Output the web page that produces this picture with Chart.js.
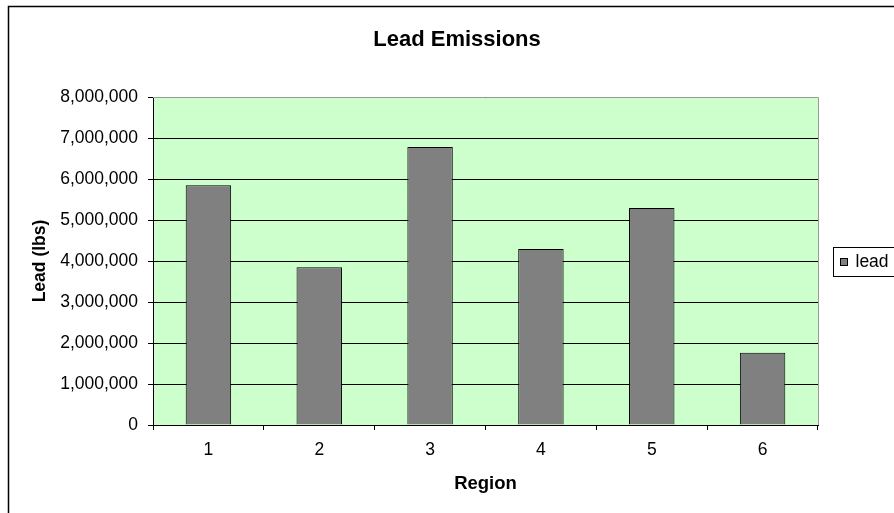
<!DOCTYPE html>
<html>
<head>
<meta charset="utf-8">
<script src="https://cdn.jsdelivr.net/npm/chart.js@4/dist/chart.umd.min.js"></script>
<style>
html,body{margin:0;padding:0;background:#fff;}
canvas{display:block;}
</style>
</head>
<body>
<canvas id="c" width="894" height="513"></canvas>
<script>
const chartTitle = 'Lead Emissions';
const categories = ['1', '2', '3', '4', '5', '6'];
const seriesName = 'lead';
const leadValues = [5850000, 3850000, 6780000, 4290000, 5290000, 1760000];
const yTitle = 'Lead (lbs)';
const xTitle = 'Region';
const yMin = 0, yMax = 8000000, yStep = 1000000;

const FONT = "'Liberation Sans', Arial, sans-serif";

const frame = {
  id: 'frame',
  beforeDraw(chart) {
    const {ctx, chartArea: a} = chart;
    ctx.save();
    ctx.fillStyle = '#ffffff';
    ctx.fillRect(0, 0, chart.width, chart.height);
    ctx.fillStyle = '#CCFFCC';
    ctx.fillRect(a.left, a.top, a.right - a.left, a.bottom - a.top);
    ctx.strokeStyle = '#000';
    ctx.lineWidth = 1.5;
    ctx.strokeRect(8.5, 6.5, chart.width + 20, chart.height + 20);
    // chart title
    ctx.fillStyle = '#000';
    ctx.font = 'bold 22px ' + FONT;
    ctx.textAlign = 'center';
    ctx.textBaseline = 'middle';
    ctx.fillText(chart.options.plugins.frame.title, 457, 40);
    ctx.restore();
  },
  afterDraw(chart) {
    const {ctx, chartArea: a} = chart;
    ctx.save();
    ctx.strokeStyle = '#999999';
    ctx.lineWidth = 1;
    ctx.beginPath();
    ctx.moveTo(a.left, a.top + 0.5);
    ctx.lineTo(a.right + 0.5, a.top + 0.5);
    ctx.lineTo(a.right + 0.5, a.bottom);
    ctx.stroke();
    // legend
    const ds = chart.data.datasets[0];
    const cy = (a.top + a.bottom) / 2;
    const lx = a.right + 15.5;
    ctx.fillStyle = '#fff';
    ctx.strokeStyle = '#000';
    ctx.lineWidth = 1;
    ctx.fillRect(lx, cy - 14, 100, 29);
    ctx.strokeRect(lx, Math.round(cy - 14) + 0.5, 100, 29);
    ctx.fillStyle = ds.backgroundColor;
    ctx.fillRect(lx + 7, cy - 3, 7, 7);
    ctx.strokeRect(lx + 7, Math.round(cy - 3) + 0.5, 7, 7);
    ctx.fillStyle = '#000';
    ctx.font = '17.5px ' + FONT;
    ctx.textBaseline = 'middle';
    ctx.textAlign = 'left';
    ctx.fillText(ds.label, lx + 22, cy + 1);
    ctx.restore();
  }
};

new Chart(document.getElementById('c'), {
  type: 'bar',
  data: {
    labels: categories,
    datasets: [{
      label: seriesName,
      data: leadValues,
      backgroundColor: '#808080',
      borderColor: '#000000',
      borderWidth: 1,
      categoryPercentage: 1.0,
      barPercentage: 0.41
    }]
  },
  plugins: [frame],
  options: {
    responsive: false,
    animation: false,
    devicePixelRatio: 1,
    layout: { padding: { left: 0, right: 76, top: 97, bottom: 0 } },
    plugins: {
      legend: { display: false },
      tooltip: { enabled: false },
      title: { display: false },
      frame: { title: chartTitle }
    },
    scales: {
      x: {
        grid: { offset: true, drawOnChartArea: false, drawTicks: true, tickLength: 5, color: '#000' },
        border: { display: true, color: '#000', width: 1 },
        ticks: { color: '#000', font: { family: FONT, size: 17.5 }, padding: 10, maxRotation: 0 },
        title: { display: true, text: xTitle, color: '#000', font: { family: FONT, size: 18.5, weight: 'bold' }, padding: { top: 0, bottom: 18 } },
        afterFit(s) { s.height = 88; }
      },
      y: {
        min: yMin, max: yMax,
        grid: { color: '#000', drawTicks: true, tickLength: 5 },
        border: { display: true, color: '#000', width: 1 },
        ticks: {
          stepSize: yStep, color: '#000', padding: 10,
          font: { family: FONT, size: 17.5 },
          callback: v => Number(v).toLocaleString('en-US')
        },
        title: { display: true, text: yTitle, color: '#000', font: { family: FONT, size: 17.5, weight: 'bold' }, padding: { top: 30, bottom: 0 } },
        afterFit(s) { s.width = 153; }
      }
    }
  }
});
</script>
</body>
</html>
